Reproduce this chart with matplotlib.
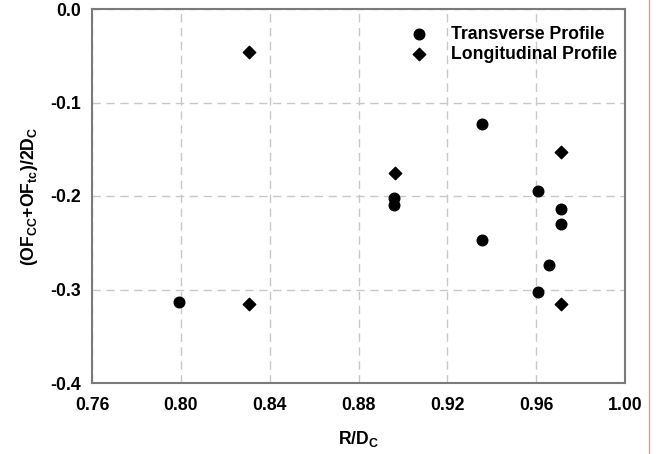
import matplotlib
matplotlib.use("Agg")
import matplotlib.pyplot as plt
from matplotlib.lines import Line2D

plt.rcParams["font.family"] = ["Liberation Sans", "DejaVu Sans"]
plt.rcParams["font.weight"] = "bold"
plt.rcParams["mathtext.fontset"] = "custom"
plt.rcParams["mathtext.rm"] = "Liberation Sans:bold"
plt.rcParams["mathtext.bf"] = "Liberation Sans:bold"

# Transverse profile (circles)
trans_x = [0.799, 0.896, 0.896, 0.9355, 0.9355, 0.961, 0.971, 0.971, 0.966, 0.961]
trans_y = [-0.313, -0.202, -0.210, -0.123, -0.247, -0.195, -0.214, -0.230, -0.274, -0.303]

# Longitudinal profile (diamonds)
long_x = [0.8305, 0.8305, 0.8965, 0.971, 0.971]
long_y = [-0.046, -0.316, -0.175, -0.153, -0.315]

xticks = [0.76, 0.80, 0.84, 0.88, 0.92, 0.96, 1.00]
yticks = [-0.4, -0.3, -0.2, -0.1, 0.0]

FS = 12.7

fig = plt.figure(figsize=(6.6, 4.54), dpi=100)
ax = fig.add_axes([92 / 660, 1 - 383 / 454, (625 - 92) / 660, (383 - 9) / 454])

ax.scatter(trans_x, trans_y, marker="o", s=58, color="black", zorder=3,
           label="Transverse Profile")
ax.scatter(long_x, long_y, marker="D", s=40, color="black", zorder=3,
           label="Longitudinal Profile")

ax.set_xlim(0.76, 1.00)
ax.set_ylim(-0.4, 0.0)
ax.set_xticks(xticks)
ax.set_xticklabels([f"{v:.2f}" for v in xticks])
ax.set_yticks(yticks)
ax.set_yticklabels([f"{v:.1f}" for v in yticks])
ax.tick_params(axis="x", length=0, labelsize=FS, pad=10)
ax.tick_params(axis="y", length=0, labelsize=FS, pad=8)

ax.grid(True, color="#c8c8c8", linestyle=(0, (6, 4)), linewidth=1.0)
ax.set_axisbelow(True)
for sp in ax.spines.values():
    sp.set_color("#7a7a7a")
    sp.set_linewidth(1.5)

ax.set_xlabel(r"R/D$_{\mathbf{C}}$", fontsize=FS, fontweight="bold", labelpad=11)
ax.set_ylabel(r"(OF$_{\mathbf{CC}}$+OF$_{\mathbf{tc}}$)/2D$_{\mathbf{C}}$",
              fontsize=FS, fontweight="bold", labelpad=7)

ax.legend(loc="upper right", bbox_to_anchor=(0.986, 0.955), frameon=False,
          handletextpad=0.85, borderaxespad=0.0, labelspacing=0.17,
          borderpad=0.0, prop={"weight": "bold", "size": FS})

# thin red border line at right of the image
fig.add_artist(Line2D([649 / 660, 649 / 660], [0, 1], transform=fig.transFigure,
                      color="#f09090", linewidth=1.0))

fig.savefig("out.png", dpi=100)
